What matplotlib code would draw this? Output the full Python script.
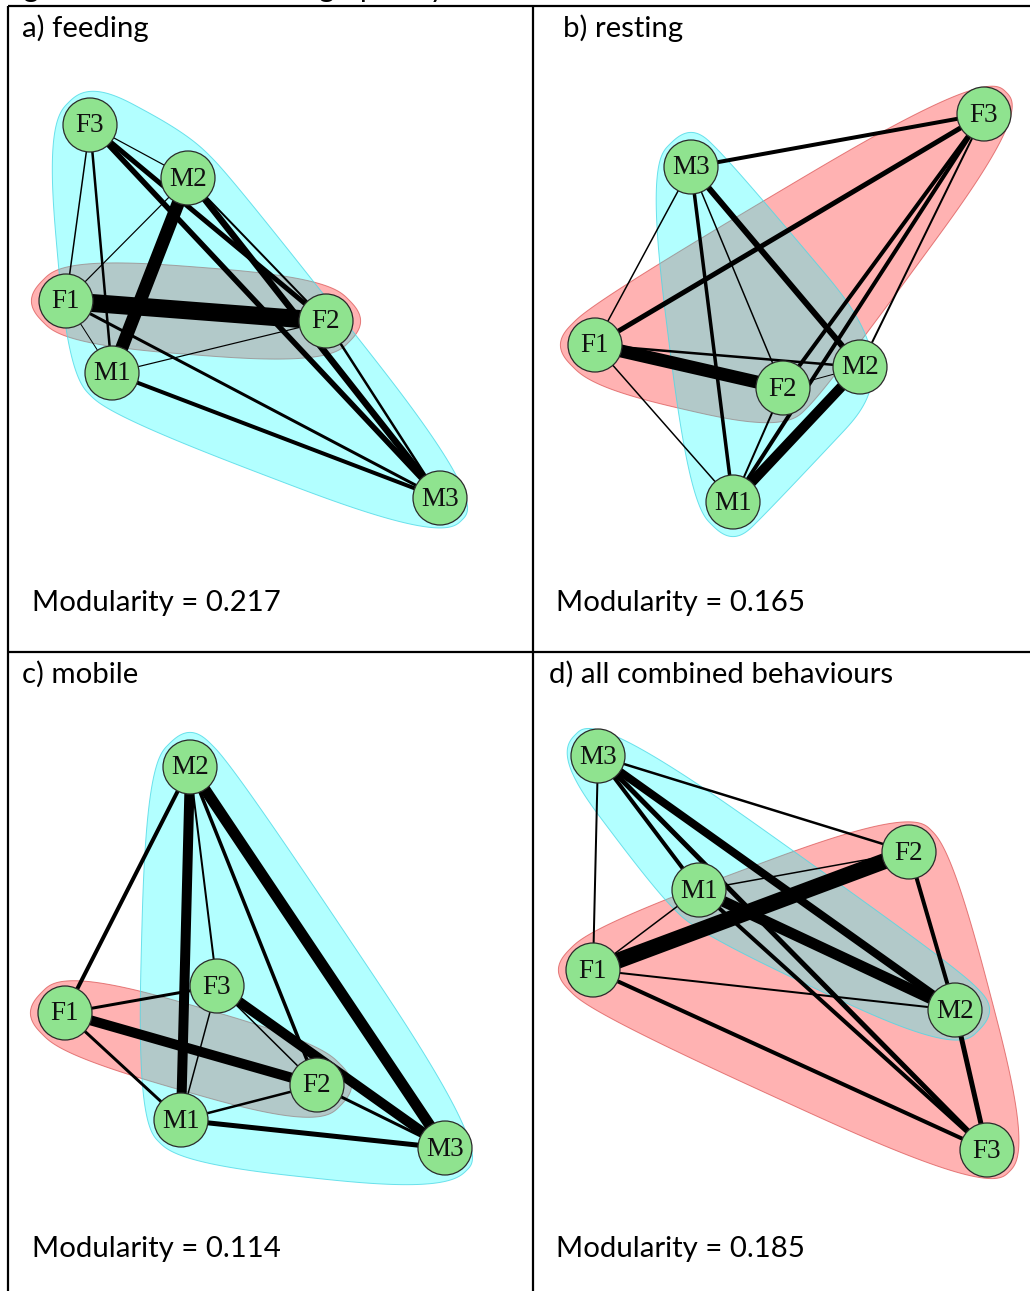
import numpy as np
import matplotlib
matplotlib.use("Agg")
import matplotlib.pyplot as plt
from matplotlib.patches import Polygon, Circle
from matplotlib.collections import LineCollection

# ---------------------------------------------------------------- data
panel_titles = ["a) feeding", "b) resting", "c) mobile", "d) all combined behaviours"]
modularity = [0.217, 0.165, 0.114, 0.185]

# node layouts (pixel units inside each table cell)
feeding_xy = {"F1": (58, 295), "F2": (318, 315), "F3": (82, 119),
              "M1": (104, 367), "M2": (180, 172), "M3": (432, 492)}
resting_xy = {"F1": (62, 339), "F2": (250, 382), "F3": (451, 108),
              "M1": (200, 496), "M2": (327, 361), "M3": (158, 161)}
mobile_xy = {"F1": (57, 361), "F2": (309, 433), "F3": (209, 334),
             "M1": (173, 468), "M2": (182, 115), "M3": (437, 496)}
combined_xy = {"F1": (60, 318), "F2": (376, 200), "F3": (454, 498),
               "M1": (166, 238), "M2": (422, 358), "M3": (65, 104)}

# association strengths (edge weights)
feeding_edges = [("F1", "F2", 18), ("M1", "M2", 13), ("F3", "F2", 5), ("F3", "M3", 5.5),
                 ("M2", "M3", 6.5), ("M2", "F2", 2), ("F3", "M2", 1.2), ("F3", "F1", 1.5),
                 ("F3", "M1", 2.5), ("F1", "M2", 1.2), ("F1", "M1", 1), ("F1", "M3", 3),
                 ("M1", "F2", 1.2), ("M1", "M3", 4), ("F2", "M3", 2.5)]
resting_edges = [("F1", "F2", 13), ("M1", "M2", 10), ("M3", "F3", 4), ("F1", "F3", 5),
                 ("M3", "M2", 6), ("M3", "F1", 1.5), ("M3", "M1", 3.5), ("M3", "F2", 1.5),
                 ("F3", "F2", 4), ("F3", "M1", 4), ("F3", "M2", 2), ("F1", "M2", 2.5),
                 ("F1", "M1", 1.5), ("F2", "M2", 1), ("F2", "M1", 2)]
mobile_edges = [("M2", "M1", 10), ("M2", "M3", 11), ("F1", "F2", 10), ("F3", "M3", 10),
                ("M2", "F1", 4), ("M2", "F3", 2), ("M2", "F2", 3.5), ("F3", "F1", 3),
                ("F3", "M1", 1.5), ("F3", "F2", 1.5), ("F1", "M1", 3), ("M1", "F2", 2.5),
                ("M1", "M3", 5), ("F2", "M3", 3)]
combined_edges = [("F1", "F2", 16), ("M1", "M2", 11), ("M3", "M2", 8), ("M3", "F3", 5),
                  ("M1", "F3", 4), ("M3", "M1", 4), ("M3", "F2", 2.5), ("M3", "F1", 2),
                  ("F1", "M1", 1.5), ("F1", "M2", 2), ("F1", "F3", 4), ("F2", "M2", 4),
                  ("F2", "M1", 1.5), ("M2", "F3", 5)]

# community membership
feeding_groups = [["F1", "F2"], ["F3", "M2", "M1", "M3"]]
resting_groups = [["F1", "F2", "F3"], ["M3", "M2", "M1"]]
mobile_groups = [["F1", "F2"], ["M2", "F3", "M1", "M3"]]
combined_groups = [["F1", "F2", "F3"], ["M3", "M1", "M2"]]

layouts = [feeding_xy, resting_xy, mobile_xy, combined_xy]
edge_sets = [feeding_edges, resting_edges, mobile_edges, combined_edges]
group_sets = [feeding_groups, resting_groups, mobile_groups, combined_groups]

# ---------------------------------------------------------------- style
W, H = 1030, 1291
cell_origin = [(8, 6), (533, 6), (8, 652), (533, 652)]
node_r = 27
hull_pad = 44
group_fill = [(1.0, 0.0, 0.0, 0.30), (0.0, 1.0, 1.0, 0.30)]
group_edge = [(0.85, 0.3, 0.3, 0.7), (0.3, 0.85, 0.9, 0.8)]
node_face = "#8fe38f"
node_edge = "#2a2a2a"
PX = 0.72  # points per pixel at 100 dpi


def convex_hull(points):
    pts = sorted(set(map(tuple, points)))

    def cross(o, a, b):
        return (a[0] - o[0]) * (b[1] - o[1]) - (a[1] - o[1]) * (b[0] - o[0])

    lower, upper = [], []
    for p in pts:
        while len(lower) >= 2 and cross(lower[-2], lower[-1], p) <= 0:
            lower.pop()
        lower.append(p)
    for p in reversed(pts):
        while len(upper) >= 2 and cross(upper[-2], upper[-1], p) <= 0:
            upper.pop()
        upper.append(p)
    return np.array(lower[:-1] + upper[:-1], dtype=float)


def f_blend(num, den):
    p = 2.0 * den * den
    u = num / den
    return u ** 3 * (10 - p + (2 * p - 15) * u + (6 - p) * u * u)


def closed_xspline(ctrl, s=0.5, steps=40):
    n = len(ctrl)
    out = []
    for k in range(n):
        p0, p1, p2, p3 = ctrl[(k - 1) % n], ctrl[k], ctrl[(k + 1) % n], ctrl[(k + 2) % n]
        for t in np.linspace(0, 1, steps, endpoint=False):
            a0 = f_blend(t - s, -1 - s) if t < s else 0.0
            a2 = f_blend(t + s, 1 + s)
            a1 = f_blend(t - 1 - s, -1 - s)
            a3 = f_blend(t - 1 + s, 1 + s) if t > 1 - s else 0.0
            w = a0 + a1 + a2 + a3
            out.append((a0 * p0 + a1 * p1 + a2 * p2 + a3 * p3) / w)
    return np.array(out)


def group_shape(points, pad):
    pts = np.asarray(points, dtype=float)
    cloud = np.vstack([pts,
                       pts + [-pad, 0], pts + [pad, 0],
                       pts + [0, -pad], pts + [0, pad]])
    return closed_xspline(convex_hull(cloud))


fig = plt.figure(figsize=(W / 100, H / 100), dpi=100)
ax = fig.add_axes([0, 0, 1, 1])
ax.set_xlim(0, W)
ax.set_ylim(H, 0)
ax.axis("off")

# table rules
rule = dict(color="black", lw=1.6, solid_capstyle="butt")
ax.plot([8, W], [6, 6], **rule)
ax.plot([8, W], [652, 652], **rule)
ax.plot([8, 8], [6, H], **rule)
ax.plot([533, 533], [6, H], **rule)

# caption line above the table (runs off the top edge)
ax.text(0, -3, "Figure 3: Social network graphs by behaviour", fontsize=21.2,
        family="Lato", va="baseline", ha="left", color="black", clip_on=False)

for i in range(4):
    ox, oy = cell_origin[i]
    xy = {k: (v[0] + ox, v[1] + oy) for k, v in layouts[i].items()}

    for g, members in enumerate(group_sets[i]):
        shape = group_shape([xy[m] for m in members], hull_pad)
        ax.add_patch(Polygon(shape, closed=True, facecolor=group_fill[g],
                             edgecolor=group_edge[g], lw=0.7, zorder=1 + g))

    segs = [[xy[a], xy[b]] for a, b, _ in edge_sets[i]]
    widths = [w * PX for _, _, w in edge_sets[i]]
    ax.add_collection(LineCollection(segs, linewidths=widths, colors="black",
                                     capstyle="butt", zorder=4))

    for name, (x, y) in xy.items():
        ax.add_patch(Circle((x, y), node_r, facecolor=node_face, edgecolor=node_edge,
                            lw=0.9, zorder=5))
        ax.text(x, y + 1, name, fontsize=19.5, family="Liberation Serif",
                ha="center", va="center", color="#111111", zorder=6)

# panel headings and modularity values
label_kw = dict(fontsize=21.2, family="Lato", color="black", va="baseline", ha="left")
title_pos = [(22, 37), (563, 37), (22, 683), (549, 683)]
mod_pos = [(32, 611), (556, 611), (32, 1257), (556, 1257)]
for i in range(4):
    ax.text(*title_pos[i], panel_titles[i], **label_kw)
    ax.text(*mod_pos[i], f"Modularity = {modularity[i]:.3f}", **label_kw)

fig.savefig("out.png", dpi=100)
